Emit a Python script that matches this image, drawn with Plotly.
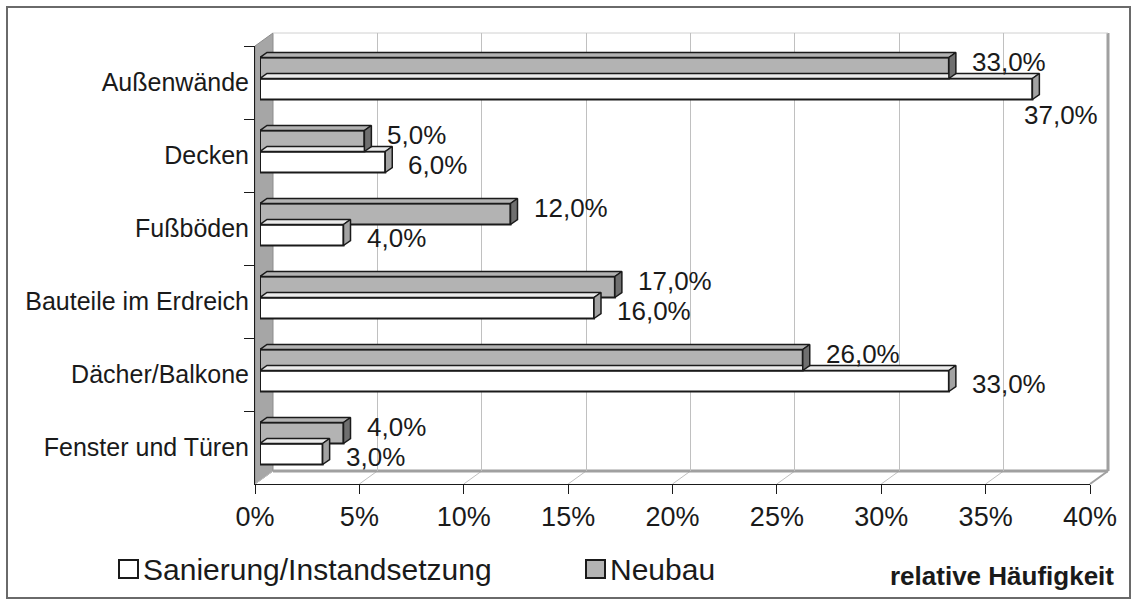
import plotly.graph_objects as go

# data (top to bottom as shown in the chart)
categories = ["Außenwände", "Decken", "Fußböden", "Bauteile im Erdreich",
              "Dächer/Balkone", "Fenster und Türen"]
sanierung = [37.0, 6.0, 4.0, 16.0, 33.0, 3.0]
neubau = [33.0, 5.0, 12.0, 17.0, 26.0, 4.0]
x_ticks = [0, 5, 10, 15, 20, 25, 30, 35, 40]

W, H = 1137, 605
FONT = "Liberation Sans, Arial, sans-serif"
TXT = "#1a1a1a"

# pseudo-3D geometry (pixels)
front_x0, front_x1 = 255, 1090   # 0% / 40% on front plane
front_top, front_bot = 46, 484   # category band on front plane
bar_dx, bar_dy = 5, -4           # bar plane offset from front plane
back_dx, back_dy = 18, -13       # back wall offset from front plane
depth_x, depth_y = 7, 5          # bar thickness in depth
XMAX = 40
px_per_pct = (front_x1 - front_x0) / XMAX
band_px = (front_bot - front_top) / len(categories)


def fx(p):
    return p / W


def fy(p):
    return 1 - p / H


def front_px(v):
    return front_x0 + v * px_per_pct


idx = list(range(len(categories)))
bw = 21 / band_px                   # bar height in category units
ddx = depth_x / px_per_pct          # depth offsets in data units
ddy = depth_y / band_px

fig = go.Figure()

# invisible anchors for the back wall and front-axis subplots
fig.add_trace(go.Scatter(x=[None], y=[None], xaxis="x", yaxis="y",
                         showlegend=False, hoverinfo="skip"))
fig.add_trace(go.Scatter(x=[0] * len(categories), y=categories, xaxis="x2", yaxis="y2",
                         mode="markers", marker=dict(opacity=0), showlegend=False,
                         hoverinfo="skip"))


def faces(vals, yoff):
    tx, ty, sx, sy = [], [], [], []
    for v, i in zip(vals, idx):
        yt = i + yoff
        yb = yt + bw
        tx += [0, v, v + ddx, ddx, 0, None]
        ty += [yt, yt, yt - ddy, yt - ddy, yt, None]
        sx += [v, v + ddx, v + ddx, v, v, None]
        sy += [yt, yt - ddy, yb - ddy, yb, yt, None]
    return tx, ty, sx, sy


series = [
    ("Sanierung/Instandsetzung", sanierung, 0.0, "white", "#ececec", "#a3a3a3"),
    ("Neubau", neubau, -bw, "#b3b3b3", "#b3b3b3", "#6f6f6f"),
]
for name, vals, off, col, topcol, sidecol in series:
    fig.add_trace(go.Bar(
        x=vals, y=idx, orientation="h", xaxis="x3", yaxis="y3",
        width=bw, offset=off, base=0,
        marker=dict(color=col, line=dict(color=TXT, width=2)),
        showlegend=False, name=name))
    tx, ty, sx, sy = faces(vals, off)
    fig.add_trace(go.Scatter(x=tx, y=ty, xaxis="x3", yaxis="y3", fill="toself",
                             fillcolor=topcol, mode="lines",
                             line=dict(color=TXT, width=1.5),
                             showlegend=False, hoverinfo="skip"))
    fig.add_trace(go.Scatter(x=sx, y=sy, xaxis="x3", yaxis="y3", fill="toself",
                             fillcolor=sidecol, mode="lines",
                             line=dict(color=TXT, width=1.5),
                             showlegend=False, hoverinfo="skip"))

# data labels
for name, vals, off, *_ in series:
    for v, i in zip(vals, idx):
        xs, ys = 21, (6 if off < 0 else -3)
        if front_px(v) + bar_dx + 21 + 75 > front_x1 + back_dx:
            # label pushed under the bar end when it would leave the plot
            xs, ys = -10, -26
        fig.add_annotation(x=v, y=i + off + bw / 2, xref="x3", yref="y3",
                           text=f"{v:.1f}".replace(".", ",") + "%",
                           showarrow=False, xanchor="left", yanchor="middle",
                           xshift=xs, yshift=ys,
                           font=dict(family=FONT, size=26, color=TXT))

# walls and floor
shapes = []
bx0, bx1 = front_x0 + back_dx, front_x1 + back_dx
btop, bbot = front_top + back_dy, front_bot + back_dy
shapes.append(dict(type="path", xref="paper", yref="paper", layer="below",
                   path=f"M{fx(front_x0)},{fy(front_top)} L{fx(bx0)},{fy(btop)} "
                        f"L{fx(bx0)},{fy(bbot)} L{fx(front_x0)},{fy(front_bot)} Z",
                   fillcolor="#a6a6a6", line=dict(color="#8c8c8c", width=1)))
for v in x_ticks:
    shapes.append(dict(type="line", xref="paper", yref="paper", layer="below",
                       x0=fx(front_px(v)), y0=fy(front_bot),
                       x1=fx(front_px(v) + back_dx), y1=fy(bbot),
                       line=dict(color="#c0c0c0", width=1)))
shapes.append(dict(type="line", xref="paper", yref="paper", layer="below",
                   x0=fx(bx0), y0=fy(bbot), x1=fx(bx1), y1=fy(bbot),
                   line=dict(color="#a0a0a0", width=3)))
shapes.append(dict(type="line", xref="paper", yref="paper", layer="below",
                   x0=fx(bx1), y0=fy(bbot), x1=fx(bx1), y1=fy(btop),
                   line=dict(color="#a0a0a0", width=3)))
shapes.append(dict(type="line", xref="paper", yref="paper", layer="below",
                   x0=fx(front_x1), y0=fy(front_bot), x1=fx(bx1), y1=fy(bbot),
                   line=dict(color="#a0a0a0", width=2)))
shapes.append(dict(type="line", xref="paper", yref="paper", layer="below",
                   x0=fx(bx0), y0=fy(btop), x1=fx(bx1), y1=fy(btop),
                   line=dict(color="#d0d0d0", width=1)))
# outer frame
shapes.append(dict(type="rect", xref="paper", yref="paper", layer="above",
                   x0=fx(7), y0=fy(7), x1=fx(1130), y1=fy(598),
                   line=dict(color="#6a6a6a", width=2)))

# legend (drawn by hand so it does not push the margins)
legend_left = [119, 586]
legend_y = 569
for (name, vals, off, col, *_), lx in zip(series, legend_left):
    shapes.append(dict(type="rect", xref="paper", yref="paper", layer="above",
                       x0=fx(lx), y0=fy(legend_y - 9), x1=fx(lx + 19), y1=fy(legend_y + 9),
                       fillcolor=col, line=dict(color=TXT, width=2)))
    fig.add_annotation(text=name, xref="paper", yref="paper",
                       x=fx(lx + 22), y=fy(legend_y), xanchor="left", yanchor="middle",
                       showarrow=False, font=dict(family=FONT, size=30, color=TXT))

fig.add_annotation(text="<b>relative Häufigkeit</b>", xref="paper", yref="paper",
                   x=fx(1116), y=fy(576), xanchor="right", yanchor="middle",
                   showarrow=False, font=dict(family=FONT, size=26, color=TXT))

fig.update_layout(
    width=W, height=H,
    margin=dict(l=0, r=0, t=0, b=0, autoexpand=False),
    paper_bgcolor="white", plot_bgcolor="rgba(0,0,0,0)",
    barmode="overlay",
    font=dict(family=FONT, color=TXT),
    shapes=shapes,
    showlegend=False,
    # back wall with gridlines
    xaxis=dict(domain=[fx(bx0), fx(bx1)], range=[0, XMAX], anchor="y",
               tickvals=x_ticks[1:-1], showgrid=True, gridcolor="#c0c0c0",
               gridwidth=1, showticklabels=False, ticks="", zeroline=False,
               showline=False, fixedrange=True),
    yaxis=dict(domain=[fy(bbot), fy(btop)], range=[0, 1], anchor="x",
               visible=False, fixedrange=True),
    # front axes with labels
    xaxis2=dict(domain=[fx(front_x0), fx(front_x1)], range=[0, XMAX], anchor="y2",
                tickvals=x_ticks, ticktext=[f"{t}%" for t in x_ticks],
                ticks="outside", ticklen=9, tickcolor=TXT, showline=True,
                linecolor=TXT, linewidth=1, showgrid=False, zeroline=False,
                tickfont=dict(family=FONT, size=27, color=TXT)),
    yaxis2=dict(domain=[fy(front_bot), fy(front_top)], type="category",
                categoryorder="array", categoryarray=categories,
                range=[len(categories) - 0.5, -0.5], anchor="x2",
                tickson="boundaries", ticks="outside", ticklen=10, tickcolor=TXT,
                showline=True, linecolor=TXT, linewidth=1, showgrid=False,
                tickfont=dict(family=FONT, size=25, color=TXT)),
    # bar plane
    xaxis3=dict(domain=[fx(front_x0 + bar_dx), fx(front_x1 + bar_dx)],
                range=[0, XMAX], anchor="y3", visible=False),
    yaxis3=dict(domain=[fy(front_bot + bar_dy), fy(front_top + bar_dy)],
                range=[len(categories) - 0.5, -0.5], anchor="x3", visible=False),
)

fig.write_html("out.html", config={"displayModeBar": False},
               post_script="document.body.style.margin='0px';")
